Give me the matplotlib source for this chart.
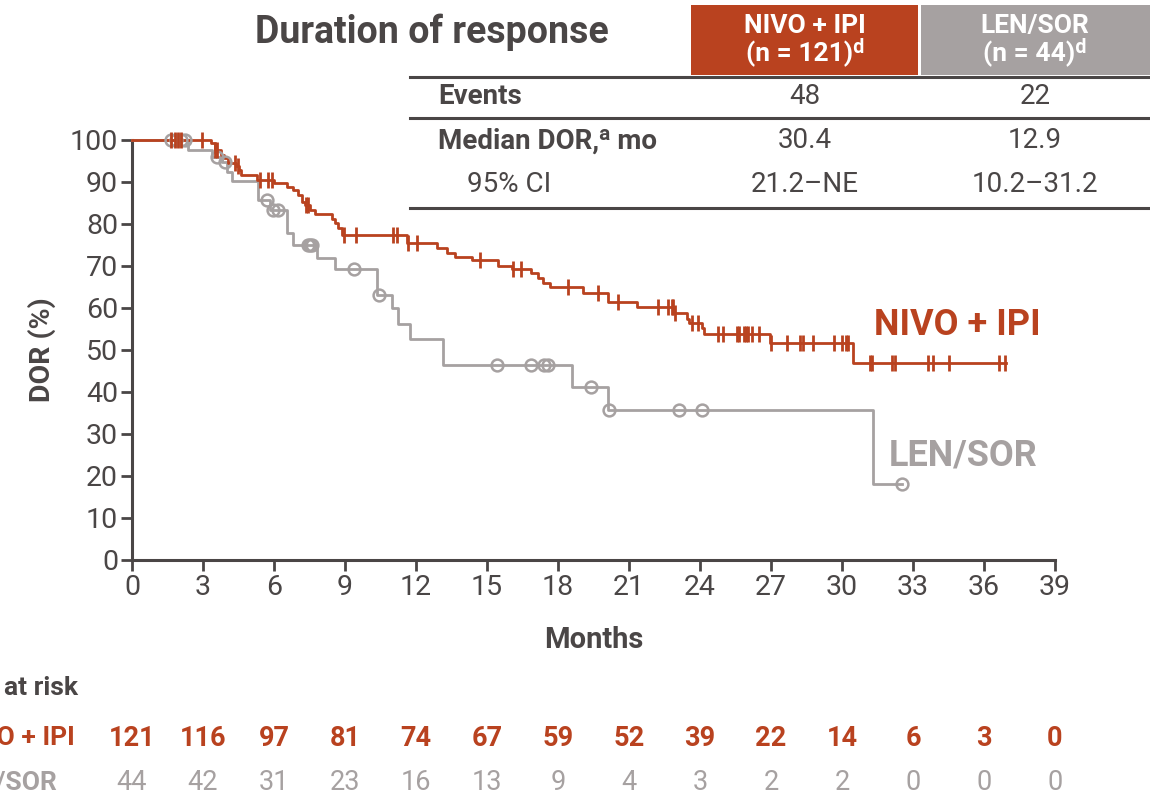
"""Kaplan-Meier plot of duration of response, NIVO + IPI vs LEN/SOR."""

import matplotlib

matplotlib.use("Agg")
import matplotlib.pyplot as plt
import numpy as np
from matplotlib.lines import Line2D
from matplotlib.patches import Rectangle

RED = "#b9421f"
GRAY = "#a6a1a1"
DARK = "#4a4646"

plt.rcParams["font.family"] = ["Roboto", "DejaVu Sans"]

# Step points (event time in months, DOR % after the event)
nivo_times = [0, 3.35, 3.5, 3.75, 3.9, 4.05, 4.4, 4.5, 4.6, 5.27, 6.0, 6.55, 6.82,
              7.03, 7.2, 7.3, 7.52, 7.73, 8.44, 8.58, 8.72, 8.86, 11.6, 12.87,
              13.3, 13.65, 14.35, 15.48, 16.04, 16.84, 17.17, 17.38, 17.66, 19.07,
              20.12, 21.32, 22.9, 23.43, 23.55, 24.07, 24.18, 26.95, 30.47]
nivo_dor = [100, 99.3, 97.7, 96.5, 95.6, 94.5, 93.7, 92.9, 91.7, 90.5, 89.7, 88.7, 88.1,
            86.9, 85.3, 84.5, 83.3, 82.3, 81.3, 80.2, 79.0, 77.5, 75.4, 74.2,
            73.2, 72.1, 71.4, 70.1, 69.4, 68.3, 67.1, 66.0, 64.9, 63.5,
            61.5, 60.2, 58.9, 57.5, 56.4, 55.2, 53.7, 51.6, 47.0]
nivo_censored = [1.65, 1.8, 1.93, 2.07, 2.94, 3.52, 3.6, 4.35, 4.49, 5.41, 5.76, 5.9,
                 7.35, 7.45, 8.97, 9.46, 11.04, 11.18, 11.67, 12.05, 14.7, 16.11,
                 16.42, 18.43, 19.7, 20.55, 22.24, 22.66, 22.8, 22.87, 22.94, 23.65,
                 23.93, 24.77, 24.98, 25.55, 25.66, 25.86, 25.94, 26.04, 26.18, 26.49,
                 27.02, 27.69, 28.22, 28.36, 28.78, 29.66, 29.98, 30.16, 30.26, 31.18,
                 31.25, 32.1, 32.24, 33.62, 33.83, 34.53, 36.64, 36.88]
nivo_end = 36.95

lensor_times = [0, 2.35, 3.37, 3.79, 4.0, 4.21, 5.34, 5.83, 6.54, 6.81, 7.8, 8.58,
                10.34, 10.97, 11.25, 11.74, 13.13, 18.6, 20.12, 31.32]
lensor_dor = [100, 97.6, 96.0, 94.8, 92.5, 90.2, 85.7, 83.3, 77.8, 75.0, 72.0, 69.2,
              63.1, 59.9, 56.2, 52.7, 46.4, 41.3, 35.7, 18.0]
lensor_censored = [1.65, 1.85, 2.05, 2.25, 3.6, 3.93, 5.69, 5.97, 6.18, 7.43, 7.52,
                   7.6, 9.38, 10.45, 15.41, 16.86, 17.42, 17.56, 19.38, 20.14, 23.11,
                   24.09, 32.52]
lensor_end = 32.52

months = [0, 3, 6, 9, 12, 15, 18, 21, 24, 27, 30, 33, 36, 39]
nivo_at_risk = [121, 116, 97, 81, 74, 67, 59, 52, 39, 22, 14, 6, 3, 0]
lensor_at_risk = [44, 42, 31, 23, 16, 13, 9, 4, 3, 2, 2, 0, 0, 0]

table_rows = ["Events", "Median DOR,ᵃ mo", "95% CI"]
nivo_table = ["48", "30.4", "21.2–NE"]
lensor_table = ["22", "12.9", "10.2–31.2"]

W, H = 1150, 797


def fx(x):
    return x / W


def fy(y):
    return 1 - y / H


def step_value(times, values, t):
    idx = np.searchsorted(times, t, side="right") - 1
    return np.asarray(values)[idx]


def draw_curve(ax, times, values, end, censored, color, marker, msize):
    xs = np.r_[times, end]
    ys = np.r_[values, values[-1]]
    ax.step(xs, ys, where="post", color=color, lw=2.0, clip_on=False, zorder=3)
    cy = [step_value(times, values, t) for t in censored]
    if marker == "|":
        ax.plot(censored, cy, ls="none", marker="|", ms=msize, mew=2.0,
                color=color, clip_on=False, zorder=4)
    else:
        ax.plot(censored, cy, ls="none", marker="o", ms=msize, mew=1.8,
                mfc="none", color=color, clip_on=False, zorder=4)


fig = plt.figure(figsize=(W / 100, H / 100), dpi=100)
ax = fig.add_axes([fx(132), fy(560), fx(1055) - fx(132), fy(140) - fy(560)])

draw_curve(ax, lensor_times, lensor_dor, lensor_end, lensor_censored, GRAY, "o", 8.5)
draw_curve(ax, nivo_times, nivo_dor, nivo_end, nivo_censored, RED, "|", 11)

ax.set_xlim(0, 39)
ax.set_ylim(0, 100)
ax.set_xticks(months)
ax.set_yticks(range(0, 101, 10))
for side in ["top", "right"]:
    ax.spines[side].set_visible(False)
for side in ["left", "bottom"]:
    ax.spines[side].set_color(DARK)
    ax.spines[side].set_linewidth(2.2)
ax.tick_params(direction="out", length=8, width=2.0, color=DARK,
               labelcolor=DARK, labelsize=20.5, pad=2)
ax.set_xlabel("Months", fontsize=21, fontweight="bold", color=DARK, labelpad=18)
ax.set_ylabel("DOR (%)", fontsize=20.5, fontweight="bold", color=DARK, labelpad=10)

ax.text(0.984, 0.56, "NIVO + IPI", transform=ax.transAxes, ha="right", va="center",
        fontsize=26, fontweight="bold", color=RED)
ax.text(0.981, 0.25, "LEN/SOR", transform=ax.transAxes, ha="right", va="center",
        fontsize=26, fontweight="bold", color=GRAY)

# Summary table above the plot
fig.text(fx(432), fy(32), "Duration of response", ha="center", va="center",
         fontsize=27, fontweight="bold", color=DARK)
fig.add_artist(Rectangle((fx(691), fy(75)), fx(918) - fx(691), fy(5) - fy(75),
                         transform=fig.transFigure, color=RED, lw=0))
fig.add_artist(Rectangle((fx(921), fy(75)), fx(1150) - fx(921), fy(5) - fy(75),
                         transform=fig.transFigure, color=GRAY, lw=0))
fig.text(fx(805), fy(40), "NIVO + IPI\n(n = 121)ᵈ", ha="center", va="center",
         fontsize=19, fontweight="bold", color="white", linespacing=0.95)
fig.text(fx(1035), fy(40), "LEN/SOR\n(n = 44)ᵈ", ha="center", va="center",
         fontsize=19, fontweight="bold", color="white", linespacing=0.95)

for y in [77, 118, 208]:
    fig.add_artist(Line2D([fx(410), fx(1150)], [fy(y), fy(y)],
                          transform=fig.transFigure, color=DARK, lw=2.2))

row_y = [97, 141, 184]
for label, nv, lv, y in zip(table_rows, nivo_table, lensor_table, row_y):
    indent = label.startswith("95")
    fig.text(fx(467 if indent else 438), fy(y), label, ha="left", va="center",
             fontsize=20, fontweight="normal" if indent else "bold", color=DARK)
    fig.text(fx(805), fy(y), nv, ha="center", va="center", fontsize=20, color=DARK)
    fig.text(fx(1035), fy(y), lv, ha="center", va="center", fontsize=20, color=DARK)

# Numbers at risk under the x axis (row labels run off the left edge)
fig.text(fx(78), fy(688), "No. at risk", ha="right", va="center",
         fontsize=19, fontweight="bold", color=DARK)
fig.text(fx(75), fy(738), "NIVO + IPI", ha="right", va="center",
         fontsize=19, fontweight="bold", color=RED)
fig.text(fx(57), fy(783), "LEN/SOR", ha="right", va="center",
         fontsize=19, fontweight="bold", color=GRAY)
for m, n1, n2 in zip(months, nivo_at_risk, lensor_at_risk):
    xpx = ax.transData.transform((m, 0))[0]
    fig.text(xpx / W, fy(738), str(n1), ha="center", va="center",
             fontsize=19.5, fontweight="bold", color=RED)
    fig.text(xpx / W, fy(783), str(n2), ha="center", va="center",
             fontsize=19.5, color=GRAY)

fig.savefig("out.png", dpi=100)
